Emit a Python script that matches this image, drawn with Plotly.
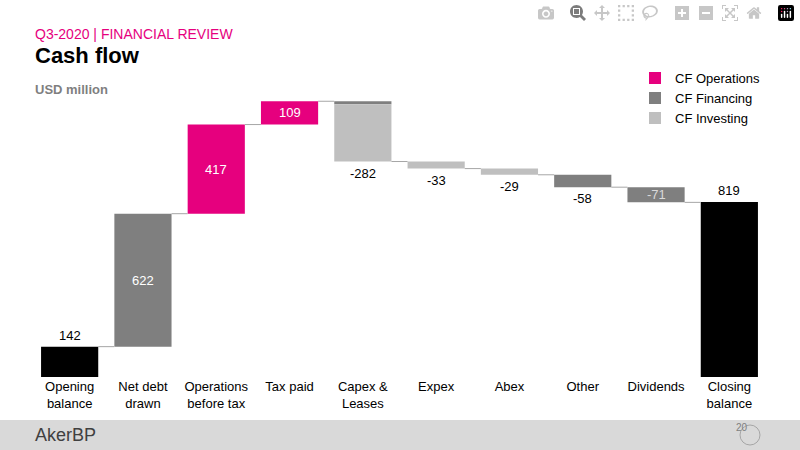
import plotly.graph_objects as go

categories = ["Opening<br>balance", "Net debt<br>drawn", "Operations<br>before tax", "Tax paid",
              "Capex &<br>Leases", "Expex", "Abex", "Other", "Dividends", "Closing<br>balance"]
labels = ["142", "622", "417", "109", "-282", "-33", "-29", "-58", "-71", "819"]
operations = [0, 0, 417, 109, 0, 0, 0, 0, 0, 0]
financing = [0, 622, 0, 0, -14, 0, 0, -58, -71, 0]
investing = [0, 0, 0, 0, -268, -33, -29, 0, 0, 0]
balance = [142, 0, 0, 0, 0, 0, 0, 0, 0, 819]

PINK, DARK, LIGHT = "#E6007E", "#7F7F7F", "#BFBFBF"
n = len(categories)
x = list(range(n))

start, end = [], []
lvl = 0
for i in range(n):
    if balance[i]:
        start.append(0); end.append(balance[i]); lvl = balance[i]
    else:
        d = operations[i] + financing[i] + investing[i]
        start.append(lvl); lvl += d; end.append(lvl)

fig = go.Figure()
W = 0.78
def add(name, vals, color, show, order):
    bases = []
    for i in range(n):
        v = vals[i]
        b = start[i] + financing[i] if (order == "inv" and v < 0) else start[i]
        if balance[i]:
            b = 0
        bases.append(b)
    fig.add_bar(x=x, y=vals, base=bases, marker_color=color, name=name, width=W,
                showlegend=show, hoverinfo="skip", marker_line_width=0)

add("CF Operations", operations, PINK, True, "")
add("CF Financing", financing, DARK, True, "")
add("CF Investing", investing, LIGHT, True, "inv")
add("bal", balance, "#000000", False, "")

shapes = []
for i in range(n - 1):
    shapes.append(dict(type="line", xref="x", yref="y", x0=i + W / 2, x1=i + 1 - W / 2,
                       y0=end[i], y1=end[i], line=dict(color="#A6A6A6", width=1)))
fig.update_layout(shapes=shapes)

ann = []
for i in range(n):
    top, bot = max(start[i], end[i]), min(start[i], end[i])
    if i in (0, 9):
        a = dict(x=i, y=top, text=labels[i], yanchor="bottom", showarrow=False, yshift=2, font=dict(color="#000000"))
    elif i in (1, 2, 3):
        a = dict(x=i, y=(top + bot) / 2, text=labels[i], showarrow=False, font=dict(color="white"))
    elif i == 8:
        a = dict(x=i, y=(top + bot) / 2, text=labels[i], showarrow=False, font=dict(color="#D9D9D9"))
    else:
        a = dict(x=i, y=bot, text=labels[i], yanchor="top", showarrow=False, yshift=-2, font=dict(color="#000000"))
    a["font"].update(size=13, family="Arial")
    ann.append(a)

paper = [
    dict(x=33, y=34, text="Q3-2020 | FINANCIAL REVIEW", font=dict(size=14, color=PINK)),
    dict(x=33, y=55, text="<b>Cash flow</b>", font=dict(size=22, color="#000000")),
    dict(x=33, y=89, text="<b>USD million</b>", font=dict(size=13, color="#7F7F7F")),
    dict(x=33, y=435, text="AkerBP", font=dict(size=18, color="#404040")),
]
for p in paper:
    ann.append(dict(xref="paper", yref="paper", x=(p["x"] - 33) / 733, y=(377 - p["y"]) / 317,
                    text=p["text"], showarrow=False, xanchor="left", yanchor="middle",
                    font=dict(family="Arial", **p["font"])))
fig.update_layout(annotations=ann)

fig.update_layout(
    width=800, height=450, margin=dict(l=33, r=34, t=60, b=73),
    paper_bgcolor="white", plot_bgcolor="white", barmode="overlay",
    font=dict(family="Arial", size=13, color="#000000"),
    xaxis=dict(tickmode="array", tickvals=x, ticktext=categories, range=[-0.5, n - 0.5],
               showgrid=False, zeroline=False, showline=False, ticks="", tickfont=dict(size=13)),
    yaxis=dict(range=[0, 1483], visible=False),
    legend=dict(x=1.0, y=0.99, xanchor="right", yanchor="top", font=dict(size=13),
                traceorder="normal", itemwidth=30, tracegroupgap=0),
)
fig.add_shape(type="rect", xref="paper", yref="paper", x0=-33/733, x1=767/733,
              y0=(377-450)/317, y1=(377-420)/317, fillcolor="#D9D9D9", line_width=0, layer="below")
fig.add_shape(type="circle", xref="paper", yref="paper", x0=(740-33)/733, x1=(760-33)/733,
              y0=(377-445)/317, y1=(377-425)/317, line=dict(color="#A6A6A6", width=1))
fig.add_annotation(xref="paper", yref="paper", x=(750-33)/733, y=(377-435)/317, text="20",
                   showarrow=False, font=dict(size=10, color="#7F7F7F", family="Arial"))
fig.write_html("out.html", post_script="document.body.style.margin='0';document.body.style.overflow='hidden';")
